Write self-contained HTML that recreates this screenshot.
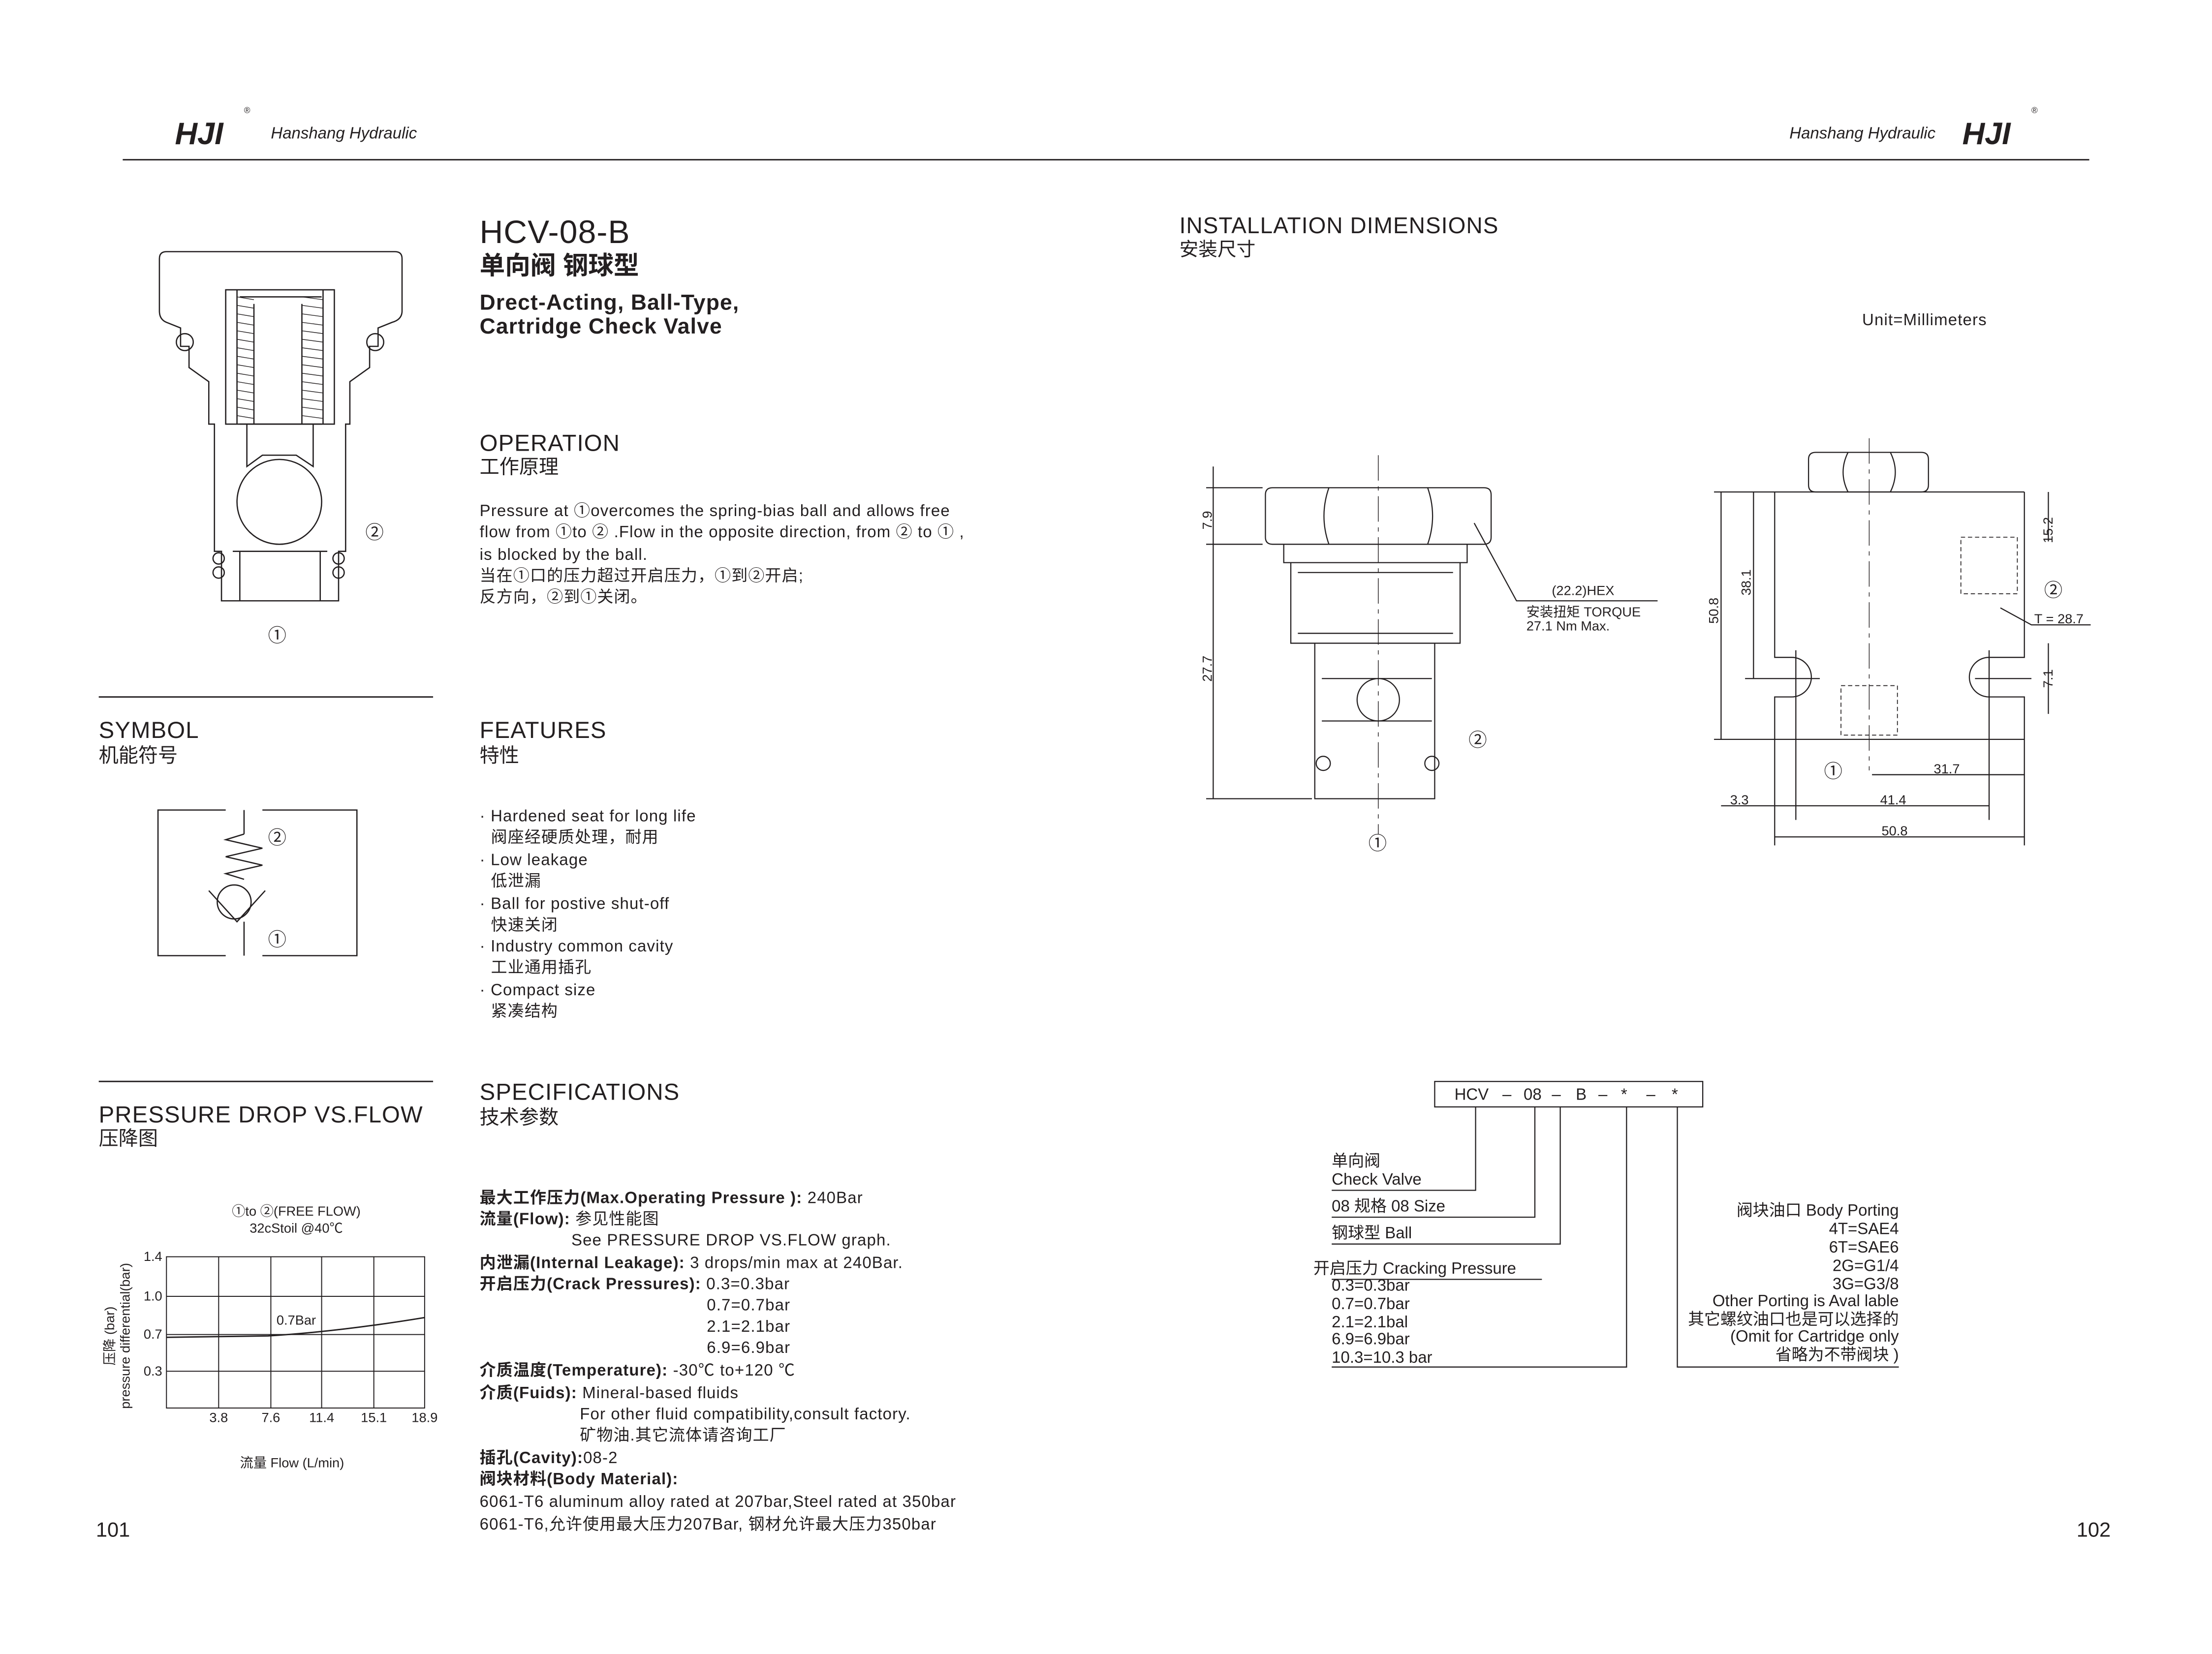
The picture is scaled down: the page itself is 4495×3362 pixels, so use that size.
<!DOCTYPE html>
<html><head><meta charset="utf-8"><style>
html,body{margin:0;padding:0;background:#fff}
svg{display:block}
text{font-family:"Liberation Sans","Noto Sans CJK SC",sans-serif;fill:#231f20}
.b{font-weight:bold}
.t{letter-spacing:0.4px}
.p{letter-spacing:0.4px}
</style></head><body>
<svg width="4495" height="3362" viewBox="0 0 1568 1170" preserveAspectRatio="none" xmlns="http://www.w3.org/2000/svg">
<g stroke="#231f20" fill="none" stroke-width="0.8">
<line x1="87" y1="113" x2="1481" y2="113" stroke-width="1"/>
</g>
<text x="124" y="102" font-size="22" font-style="italic" class="b">HJI</text>
<text x="173" y="80" font-size="6">®</text>
<text x="192" y="98" font-size="11.5" font-style="italic">Hanshang Hydraulic</text>
<text x="1372" y="98" font-size="11.5" font-style="italic" text-anchor="end">Hanshang Hydraulic</text>
<text x="1391" y="102" font-size="22" font-style="italic" class="b">HJI</text>
<text x="1440" y="80" font-size="6">®</text>

<text x="340" y="172" font-size="23" class="t">HCV-08-B</text>
<text x="340" y="194" font-size="18" class="b">单向阀 钢球型</text>
<text x="340" y="219" font-size="15.5" class="b t">Drect-Acting, Ball-Type,</text>
<text x="340" y="236" font-size="15.5" class="b t">Cartridge Check Valve</text>

<text x="340" y="319" font-size="16.5" class="t">OPERATION</text>
<text x="340" y="335" font-size="14">工作原理</text>
<g font-size="11.5" class="p">
<text x="340" y="365">Pressure at ①overcomes the spring-bias ball and allows free</text>
<text x="340" y="380">flow from ①to ② .Flow in the opposite direction, from ② to ① ,</text>
<text x="340" y="396">is blocked by the ball.</text>
<text x="340" y="411">当在①口的压力超过开启压力，①到②开启;</text>
<text x="340" y="426">反方向，②到①关闭。</text>
</g>

<line x1="70" y1="493" x2="307" y2="493" stroke="#231f20" stroke-width="1"/>
<text x="70" y="522" font-size="16.5" class="t">SYMBOL</text>
<text x="70" y="539" font-size="14">机能符号</text>
<text x="340" y="522" font-size="16.5" class="t">FEATURES</text>
<text x="340" y="539" font-size="14">特性</text>
<g font-size="11.5" class="p">
<text x="340" y="581">·  Hardened seat for long life</text>
<text x="348" y="596">阀座经硬质处理，耐用</text>
<text x="340" y="612">·  Low leakage</text>
<text x="348" y="627">低泄漏</text>
<text x="340" y="643">·  Ball for postive shut-off</text>
<text x="348" y="658">快速关闭</text>
<text x="340" y="673">·  Industry common cavity</text>
<text x="348" y="688">工业通用插孔</text>
<text x="340" y="704">·  Compact size</text>
<text x="348" y="719">紧凑结构</text>
</g>

<line x1="70" y1="765" x2="307" y2="765" stroke="#231f20" stroke-width="1"/>
<text x="70" y="794" font-size="16.5" class="t">PRESSURE DROP VS.FLOW</text>
<text x="70" y="810" font-size="14">压降图</text>
<text x="340" y="778" font-size="16.5" class="t">SPECIFICATIONS</text>
<text x="340" y="795" font-size="14">技术参数</text>
<g font-size="11.5" class="p">
<text x="340" y="851"><tspan class="b">最大工作压力(Max.Operating Pressure ):</tspan> 240Bar</text>
<text x="340" y="866"><tspan class="b">流量(Flow):</tspan> 参见性能图</text>
<text x="405" y="881">See PRESSURE DROP VS.FLOW graph.</text>
<text x="340" y="897"><tspan class="b">内泄漏(Internal Leakage):</tspan> 3 drops/min max at 240Bar.</text>
<text x="340" y="912"><tspan class="b">开启压力(Crack Pressures):</tspan> 0.3=0.3bar</text>
<text x="501" y="927">0.7=0.7bar</text>
<text x="501" y="942">2.1=2.1bar</text>
<text x="501" y="957">6.9=6.9bar</text>
<text x="340" y="973"><tspan class="b">介质温度(Temperature):</tspan> -30℃ to+120 ℃</text>
<text x="340" y="989"><tspan class="b">介质(Fuids):</tspan> Mineral-based fluids</text>
<text x="411" y="1004">For other fluid compatibility,consult factory.</text>
<text x="411" y="1019">矿物油.其它流体请咨询工厂</text>
<text x="340" y="1035"><tspan class="b">插孔(Cavity):</tspan>08-2</text>
<text x="340" y="1050" class="b">阀块材料(Body Material):</text>
<text x="340" y="1066">6061-T6 aluminum alloy rated at 207bar,Steel rated at 350bar</text>
<text x="340" y="1082">6061-T6,允许使用最大压力207Bar, 钢材允许最大压力350bar</text>
</g>
<text x="68" y="1087" font-size="14.5">101</text>
<text x="1472" y="1087" font-size="14.5">102</text>

<g stroke="#231f20" fill="none" stroke-width="0.7">
<rect x="118" y="889" width="183" height="107"/>
<line x1="155" y1="889" x2="155" y2="996"/><line x1="192" y1="889" x2="192" y2="996"/>
<line x1="228" y1="889" x2="228" y2="996"/><line x1="265" y1="889" x2="265" y2="996"/>
<line x1="118" y1="917" x2="301" y2="917"/><line x1="118" y1="944" x2="301" y2="944"/><line x1="118" y1="970" x2="301" y2="970"/>
<path d="M118 946 L190 945 Q240 942 301 932" stroke-width="1"/>
</g>
<g font-size="9.5">
<text x="210" y="860" text-anchor="middle">①to ②(FREE FLOW)</text>
<text x="210" y="872" text-anchor="middle">32cStoil @40℃</text>
<text x="115" y="892" text-anchor="end">1.4</text><text x="115" y="920" text-anchor="end">1.0</text>
<text x="115" y="947" text-anchor="end">0.7</text><text x="115" y="973" text-anchor="end">0.3</text>
<text x="155" y="1006" text-anchor="middle">3.8</text><text x="192" y="1006" text-anchor="middle">7.6</text>
<text x="228" y="1006" text-anchor="middle">11.4</text><text x="265" y="1006" text-anchor="middle">15.1</text>
<text x="301" y="1006" text-anchor="middle">18.9</text>
<text x="196" y="937">0.7Bar</text>
<text x="207" y="1038" text-anchor="middle">流量 Flow (L/min)</text>
<text transform="translate(81,945) rotate(-90)" text-anchor="middle">压降 (bar)</text>
<text transform="translate(92,945) rotate(-90)" text-anchor="middle">pressure differential(bar)</text>
</g>

<g stroke="#231f20" fill="none" stroke-width="0.9">
<path d="M160 573 H112 V676 H160 M186 573 H253 V676 H186"/>
<line x1="173" y1="573" x2="173" y2="590"/>
<path d="M173 590 L160 594 L186 600 L160 606 L186 612 L160 618 L173 622"/>
<circle cx="166" cy="638" r="12"/>
<path d="M148 630 L168 652 L188 630"/>
<line x1="173" y1="652" x2="173" y2="676"/>
</g>
<text x="190" y="597" font-size="13">②</text>
<text x="190" y="669" font-size="13">①</text>

<g stroke="#231f20" fill="none" stroke-width="0.9">
<path d="M113 183 Q113 178 118 178 H280 Q285 178 285 183 V220 Q285 226 278 228 L268 232 V245 H262 V260 L248 270 V300 H245 V390 H240 V425 H157 V390 H152 V300 H148 V270 L134 260 V245 H128 V232 L118 228 Q113 226 113 220 Z"/>
<path d="M160 205 H237 V300 H160 Z"/>
<path d="M168 205 V300 M229 205 V300"/>
<path d="M170 210 H228 M170 300 H228"/>
<path d="M180 215 V300 M214 215 V300"/>
<g stroke-width="0.5">
<path d="M168 210 L180 212 M168 216 L180 218 M168 222 L180 224 M168 228 L180 230 M168 234 L180 236 M168 240 L180 242 M168 246 L180 248 M168 252 L180 254 M168 258 L180 260 M168 264 L180 266 M168 270 L180 272 M168 276 L180 278 M168 282 L180 284 M168 288 L180 290 M168 294 L180 296"/>
<path d="M214 210 L229 212 M214 216 L229 218 M214 222 L229 224 M214 228 L229 230 M214 234 L229 236 M214 240 L229 242 M214 246 L229 248 M214 252 L229 254 M214 258 L229 260 M214 264 L229 266 M214 270 L229 272 M214 276 L229 278 M214 282 L229 284 M214 288 L229 290 M214 294 L229 296"/>
</g>
<path d="M175 300 V330 L186 322 H210 L222 330 V300"/>
<circle cx="198" cy="355" r="30"/>
<path d="M165 390 H232 M170 390 V425 M227 390 V425"/>
<circle cx="131" cy="242" r="6"/><circle cx="266" cy="242" r="6"/>
<circle cx="155" cy="395" r="4"/><circle cx="155" cy="405" r="4"/><circle cx="240" cy="395" r="4"/><circle cx="240" cy="405" r="4"/>
</g>
<text x="259" y="381" font-size="13">②</text>
<text x="190" y="454" font-size="13">①</text>

<text x="836" y="165" font-size="16" class="t">INSTALLATION DIMENSIONS</text>
<text x="836" y="181" font-size="13.5">安装尺寸</text>
<text x="1320" y="230" font-size="11.5" class="p">Unit=Millimeters</text>

<g stroke="#231f20" fill="none" stroke-width="0.8">
<line x1="977" y1="322" x2="977" y2="590" stroke-dasharray="18,4,3,4" stroke-width="0.5"/>
<path d="M897 350 Q897 345 902 345 H1052 Q1057 345 1057 350 V380 Q1057 385 1052 385 H902 Q897 385 897 380 Z"/>
<path d="M942 345 Q935 365 942 385 M1012 345 Q1019 365 1012 385"/>
<path d="M910 385 V398 H1040 V385 M915 398 V455 H1035 V398 M920 405 H1030 M920 448 H1030"/>
<path d="M932 455 V565 H1017 V455 M937 480 H1015 M937 510 H1015"/>
<circle cx="977" cy="495" r="15"/>
<circle cx="938" cy="540" r="5"/><circle cx="1015" cy="540" r="5"/>
<path d="M855 345 H895 M855 385 H895 M855 565 H930"/>
<path d="M860 330 V565"/>
<path d="M1045 370 L1075 425 H1175"/>
<path d="M1282 325 Q1282 320 1287 320 H1362 Q1367 320 1367 325 V343 Q1367 348 1362 348 H1287 Q1282 348 1282 343 Z M1310 320 Q1303 334 1310 348 M1340 320 Q1347 334 1340 348"/>
<line x1="1325" y1="310" x2="1325" y2="545" stroke-dasharray="18,4,3,4" stroke-width="0.5"/>
<path d="M1215 348 H1435 M1258 348 V465 H1270 A10 10 0 0 1 1270 493 H1258 V523 M1435 348 V465 H1410 A10 10 0 0 0 1410 493 H1435 V523 M1215 523 H1435"/>
<path d="M1258 523 V598 M1435 523 V598 M1273 460 V580 M1410 460 V580"/>
<path d="M1220 348 V523 M1243 348 V480 M1237 480 H1290 M1452 348 V383 M1452 455 V505 M1400 480 H1440"/>
<path d="M1305 485 H1345 V520 H1305 Z M1390 380 H1430 V420 H1390 Z" stroke-dasharray="3,2" stroke-width="0.6"/>
<path d="M1327 548 H1435 M1220 570 H1410 M1258 592 H1435"/>
<path d="M1418 430 L1440 442 H1482"/>
</g>
<g font-size="9.5">
<text transform="translate(859,368) rotate(-90)" text-anchor="middle">7.9</text>
<text transform="translate(859,473) rotate(-90)" text-anchor="middle">27.7</text>
<text x="1100" y="421">(22.2)HEX</text>
<text x="1082" y="436">安装扭矩 TORQUE</text>
<text x="1082" y="446">27.1 Nm Max.</text>
<text transform="translate(1218,432) rotate(-90)" text-anchor="middle">50.8</text>
<text transform="translate(1241,412) rotate(-90)" text-anchor="middle">38.1</text>
<text transform="translate(1455,375) rotate(-90)" text-anchor="middle">15.2</text>
<text transform="translate(1455,480) rotate(-90)" text-anchor="middle">7.1</text>
<text x="1442" y="441">T = 28.7</text>
<text x="1380" y="547" text-anchor="middle">31.7</text>
<text x="1342" y="569" text-anchor="middle">41.4</text>
<text x="1233" y="569" text-anchor="middle">3.3</text>
<text x="1343" y="591" text-anchor="middle">50.8</text>
</g>
<text x="1041" y="528" font-size="13">②</text>
<text x="970" y="601" font-size="13">①</text>
<text x="1449" y="422" font-size="13">②</text>
<text x="1293" y="550" font-size="13">①</text>

<g stroke="#231f20" fill="none" stroke-width="0.8">
<rect x="1017" y="765" width="190" height="18"/>
<path d="M1046 783 V842 H944 M1088 783 V861 H944 M1106 783 V880 H944 M1153 783 V967 H944 M1189 783 V967 H1346"/>
<path d="M944 905 H1093"/>
</g>
<g font-size="11.5">
<text x="1031" y="778">HCV</text><text x="1065" y="778">–</text><text x="1080" y="778">08</text>
<text x="1100" y="778">–</text><text x="1117" y="778">B</text><text x="1133" y="778">–</text>
<text x="1149" y="778">*</text><text x="1167" y="778">–</text><text x="1185" y="778">*</text>
<text x="944" y="825">单向阀</text><text x="944" y="838">Check Valve</text>
<text x="944" y="857">08 规格 08 Size</text>
<text x="944" y="876">钢球型 Ball</text>
<text x="931" y="901">开启压力 Cracking Pressure</text>
<text x="944" y="913">0.3=0.3bar</text><text x="944" y="926">0.7=0.7bar</text>
<text x="944" y="939">2.1=2.1bal</text><text x="944" y="951">6.9=6.9bar</text>
<text x="944" y="964">10.3=10.3 bar</text>
<g text-anchor="end">
<text x="1346" y="860">阀块油口 Body Porting</text>
<text x="1346" y="873">4T=SAE4</text><text x="1346" y="886">6T=SAE6</text>
<text x="1346" y="899">2G=G1/4</text><text x="1346" y="912">3G=G3/8</text>
<text x="1346" y="924">Other Porting is Aval lable</text>
<text x="1346" y="937">其它螺纹油口也是可以选择的</text>
<text x="1346" y="949">(Omit for Cartridge only</text>
<text x="1346" y="962">省略为不带阀块 )</text>
</g>
</g>
</svg>
</body></html>
